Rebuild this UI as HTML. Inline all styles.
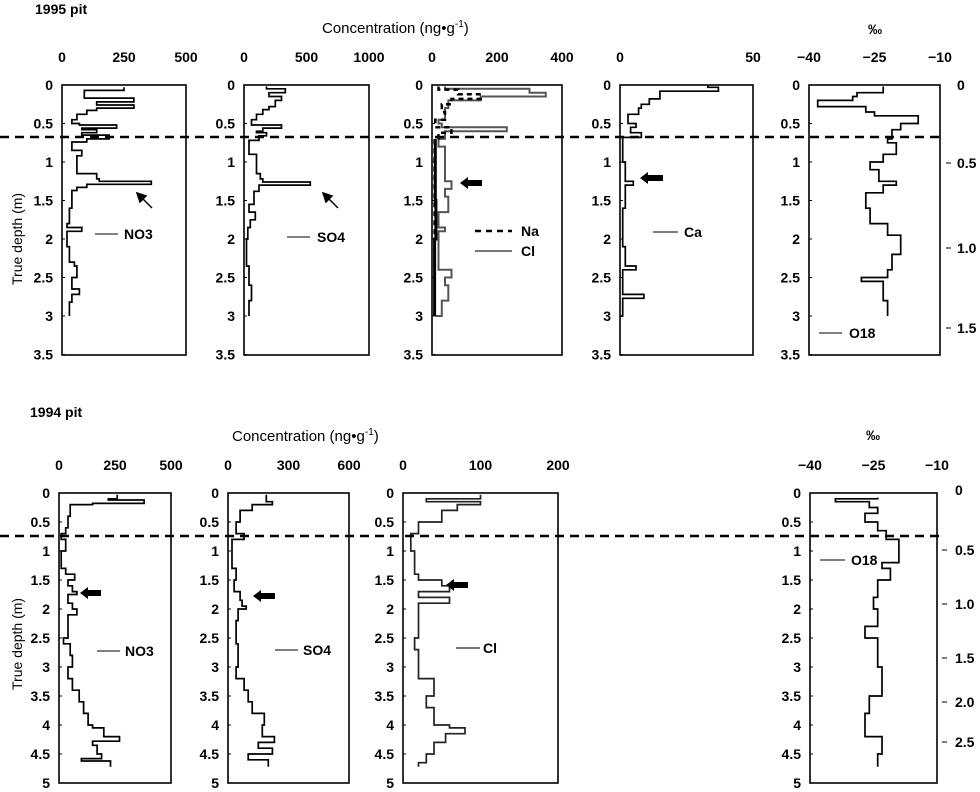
<!DOCTYPE html>
<html><head><meta charset="utf-8"><style>
body{margin:0;background:#fff}
svg{display:block;font-family:"Liberation Sans",Arial,sans-serif}
text{font-size:14px;fill:#000}
</style></head><body>
<svg id="s" width="980" height="792" viewBox="0 0 980 792" xmlns="http://www.w3.org/2000/svg">
<g font-weight="bold">
<text x="35" y="14" style="font-size:14px">1995 pit</text>
<text x="322" y="33" style="font-size:15px;font-weight:normal">Concentration (ng<tspan>•</tspan>g<tspan dy="-6" style="font-size:10px">-1</tspan><tspan dy="6">)</tspan></text>
<text x="868" y="34">‰</text>
<text x="30" y="417" style="font-size:14px">1994 pit</text>
<text x="232" y="441" style="font-size:15px;font-weight:normal">Concentration (ng<tspan>•</tspan>g<tspan dy="-6" style="font-size:10px">-1</tspan><tspan dy="6">)</tspan></text>
<text x="866" y="440">‰</text>
<text transform="translate(22,285) rotate(-90)" style="font-size:14px;font-weight:normal">True depth (m)</text>
<text transform="translate(22,690) rotate(-90)" style="font-size:14px;font-weight:normal">True depth (m)</text>
</g>
<g id="g"></g>
<g stroke="#000" stroke-width="2.5" stroke-dasharray="9,6"><line x1="0" y1="137" x2="945" y2="137"/><line x1="0" y1="536" x2="945" y2="536"/></g>
<g font-weight="bold">
<line x1="95" y1="234" x2="118" y2="234" stroke="#000"/><text x="124" y="239">NO3</text>
<line x1="287" y1="237" x2="310" y2="237" stroke="#000"/><text x="317" y="242">SO4</text>
<line x1="475" y1="231" x2="512" y2="231" stroke="#000" stroke-width="2.5" stroke-dasharray="6,5"/><text x="521" y="236">Na</text>
<line x1="475" y1="251" x2="512" y2="251" stroke="#777" stroke-width="2"/><text x="521" y="256">Cl</text>
<line x1="653" y1="232" x2="678" y2="232" stroke="#000"/><text x="684" y="237">Ca</text>
<line x1="819" y1="333" x2="842" y2="333" stroke="#000"/><text x="849" y="338">O18</text>
<line x1="97" y1="651" x2="120" y2="651" stroke="#000"/><text x="125" y="656">NO3</text>
<line x1="275" y1="650" x2="298" y2="650" stroke="#000"/><text x="303" y="655">SO4</text>
<line x1="456" y1="648" x2="480" y2="648" stroke="#777" stroke-width="2"/><text x="483" y="653">Cl</text>
<line x1="820" y1="560" x2="845" y2="560" stroke="#000"/><text x="851" y="565">O18</text>
</g>
<g stroke="#000" stroke-width="1.5" fill="#000">
<line x1="152" y1="208" x2="140" y2="196"/><polygon points="137,193 146,196 140,202"/>
<line x1="338" y1="208" x2="326" y2="196"/><polygon points="323,193 332,196 326,202"/>
</g>
<g fill="#000">
<polygon points="460,183 468,177 468,180 482,180 482,186 468,186 468,189"/>
<polygon points="640,178 648,172 648,175 663,175 663,181 648,181 648,184"/>
<polygon points="80,593 88,587 88,590 101,590 101,596 88,596 88,599"/>
<polygon points="253,596 261,590 261,593 275,593 275,599 261,599 261,602"/>
<polygon points="446,585 454,579 454,582 468,582 468,588 454,588 454,591"/>
</g>
</svg>
<script>
var NS="http://www.w3.org/2000/svg",G=document.getElementById('g');
function el(t,a,txt){var e=document.createElementNS(NS,t);for(var k in a)e.setAttribute(k,a[k]);if(txt!==undefined)e.textContent=txt;G.appendChild(e);return e;}
function panel(p){
 el('rect',{x:p.x0,y:p.y0,width:p.x1-p.x0,height:p.h,fill:'none',stroke:'#000','stroke-width':1.6});
 p.ticks.forEach(function(t){var x=p.x0+(t-p.vmin)/(p.vmax-p.vmin)*(p.x1-p.x0);
  el('text',{x:x,y:p.y0-23,'text-anchor':'middle','font-weight':'bold'},t<0?'\u2212'+(-t):String(t));});
 p.depths.forEach(function(d){var y=p.y0+d*p.pm;
  el('text',{x:p.x0-9,y:y+5,'text-anchor':'end','font-weight':'bold'},String(d));
  el('line',{x1:p.x0,y1:y,x2:p.x0+3,y2:y,stroke:'#000'});});
 p.series.forEach(function(s){var a=s.d,dd='';
  function X(v){return (p.x0+(v-p.vmin)/(p.vmax-p.vmin)*(p.x1-p.x0)).toFixed(1);}
  function Y(d){return (p.y0+d*p.pm).toFixed(1);}
  for(var i=0;i<a.length;i+=2){ if(i==0)dd='M'+X(a[1])+' '+Y(a[0]); else dd+=' V'+Y(a[i])+' H'+X(a[i+1]);}
  el('path',{d:dd,fill:'none',stroke:s.c||'#000','stroke-width':s.w||1.7,'stroke-dasharray':s.da||'none'});});
}
var T=[0,0.5,1,1.5,2,2.5,3,3.5],B=[0,0.5,1,1.5,2,2.5,3,3.5,4,4.5,5];
panel({x0:62,x1:186,y0:85,h:270,pm:77,vmin:0,vmax:500,ticks:[0,250,500],depths:T,series:[{d:[0.03,250,0.07,90,0.17,290,0.22,140,0.26,290,0.3,140,0.33,100,0.38,60,0.45,40,0.5,70,0.52,220,0.56,80,0.58,140,0.62,80,0.65,190,0.7,100,0.74,40,0.85,80,0.92,60,1.15,140,1.22,150,1.25,360,1.29,100,1.33,60,1.37,40,1.6,30,1.8,20,1.85,80,1.9,20,2.1,30,2.3,50,2.35,60,2.5,40,2.65,70,2.72,40,2.82,30,3.0,30]}]});
panel({x0:244,x1:369,y0:85,h:270,pm:77,vmin:0,vmax:1000,ticks:[0,500,1000],depths:T,series:[{d:[0.02,180,0.05,330,0.1,200,0.15,300,0.2,250,0.28,200,0.32,150,0.38,100,0.45,60,0.52,300,0.56,150,0.6,100,0.62,180,0.66,120,0.72,40,0.9,100,1.15,130,1.22,150,1.26,530,1.3,120,1.38,80,1.55,40,1.65,90,1.75,50,1.85,30,2.0,20,2.35,40,2.6,60,2.8,40,3.0,40]}]});
panel({x0:432,x1:562,y0:85,h:270,pm:77,vmin:0,vmax:400,ticks:[0,200,400],depths:T,series:[
 {d:[0.02,40,0.05,300,0.1,350,0.15,150,0.2,50,0.3,40,0.45,20,0.5,30,0.55,230,0.6,40,0.7,20,0.8,40,1.1,40,1.25,60,1.35,40,1.45,50,1.55,50,1.65,20,1.85,40,1.9,20,2.4,60,2.5,40,2.6,50,2.8,30,3.0,10],c:'#555',w:2},
 {d:[0.02,20,0.06,80,0.12,150,0.18,60,0.25,30,0.35,40,0.45,10,0.55,60,0.62,20,0.7,8,3.0,8],w:2.5,da:'5,4'},
 {d:[0.7,10,1.5,12,2.0,8,3.0,8],w:3}]});
panel({x0:620,x1:753,y0:85,h:270,pm:77,vmin:0,vmax:50,ticks:[0,50],depths:T,series:[{d:[0.0,33,0.03,37,0.08,15,0.18,11,0.25,8,0.3,7,0.38,3,0.5,6,0.55,4,0.62,8,0.68,1,1.0,2,1.25,5,1.3,2,1.6,1,2.1,2,2.35,6,2.4,1,2.72,9,2.77,1,3.0,0]}]});
panel({x0:809,x1:940,y0:85,h:270,pm:77,vmin:-40,vmax:-10,ticks:[-40,-25,-10],depths:T,series:[{d:[0.02,-23,0.1,-29,0.15,-30,0.2,-38,0.28,-27,0.35,-25,0.4,-15,0.5,-19,0.58,-21,0.7,-22,0.75,-20,0.9,-23,1.0,-26,1.1,-24,1.25,-20,1.3,-23,1.4,-27,1.6,-26,1.8,-22,1.95,-19,2.2,-21,2.4,-22,2.5,-28,2.55,-23,2.8,-22,3.0,-22]}]});
panel({x0:59,x1:171,y0:493,h:290,pm:58,vmin:0,vmax:500,ticks:[0,250,500],depths:B,series:[{d:[0.03,260,0.1,220,0.12,380,0.18,150,0.2,50,0.4,40,0.6,30,0.7,10,0.8,30,1.0,10,1.3,30,1.4,70,1.5,40,1.6,60,1.7,80,1.75,40,1.9,60,2.0,80,2.1,40,2.5,20,2.6,50,2.8,60,3.0,40,3.2,60,3.4,90,3.6,110,3.8,130,4.0,150,4.05,200,4.2,270,4.28,150,4.35,170,4.5,190,4.58,100,4.62,230,4.72,230]}]});
panel({x0:228,x1:349,y0:493,h:290,pm:58,vmin:0,vmax:600,ticks:[0,300,600],depths:B,series:[{d:[0.03,190,0.15,220,0.2,120,0.3,60,0.5,40,0.7,80,0.8,20,1.3,40,1.5,30,1.7,60,1.85,70,1.95,90,2.0,50,2.2,40,2.6,50,3.0,40,3.2,80,3.4,100,3.6,120,3.8,180,4.0,170,4.2,230,4.3,150,4.4,220,4.5,100,4.6,200,4.72,200]}]});
panel({x0:403,x1:558,y0:493,h:290,pm:58,vmin:0,vmax:200,ticks:[0,100,200],depths:B,series:[{d:[0.03,100,0.1,30,0.15,100,0.2,70,0.3,50,0.5,20,0.7,10,1.0,15,1.4,20,1.5,50,1.6,60,1.7,20,1.8,60,1.9,20,2.5,15,2.7,20,3.0,20,3.2,40,3.5,30,3.7,40,4.0,60,4.05,80,4.15,55,4.3,40,4.5,30,4.65,20,4.72,20],c:'#222',w:1.7}]});
panel({x0:810,x1:937,y0:493,h:290,pm:58,vmin:-40,vmax:-10,ticks:[-40,-25,-10],depths:B,series:[{d:[0.08,-24,0.1,-34,0.15,-26,0.25,-24,0.35,-27,0.5,-24,0.65,-22,0.8,-19,1.2,-23,1.3,-21,1.5,-24,1.8,-25,2.0,-24,2.3,-27,2.5,-24,3.0,-23,3.5,-26,3.8,-27,4.2,-23,4.5,-24,4.72,-24]}]});
[[0,85],[0.5,163],[1.0,248],[1.5,328]].forEach(function(r){var t=r[0]==0?'0':r[0].toFixed(1);
 if(r[0])el('line',{x1:946,y1:r[1],x2:951,y2:r[1],stroke:'#000'});el('text',{x:957,y:r[1]+5,'font-weight':'bold'},t);});
[[0,490],[0.5,550],[1.0,604],[1.5,658],[2.0,702],[2.5,742]].forEach(function(r){var t=r[0]==0?'0':r[0].toFixed(1);
 if(r[0])el('line',{x1:942,y1:r[1],x2:947,y2:r[1],stroke:'#000'});el('text',{x:955,y:r[1]+5,'font-weight':'bold'},t);});
</script>
</body></html>
